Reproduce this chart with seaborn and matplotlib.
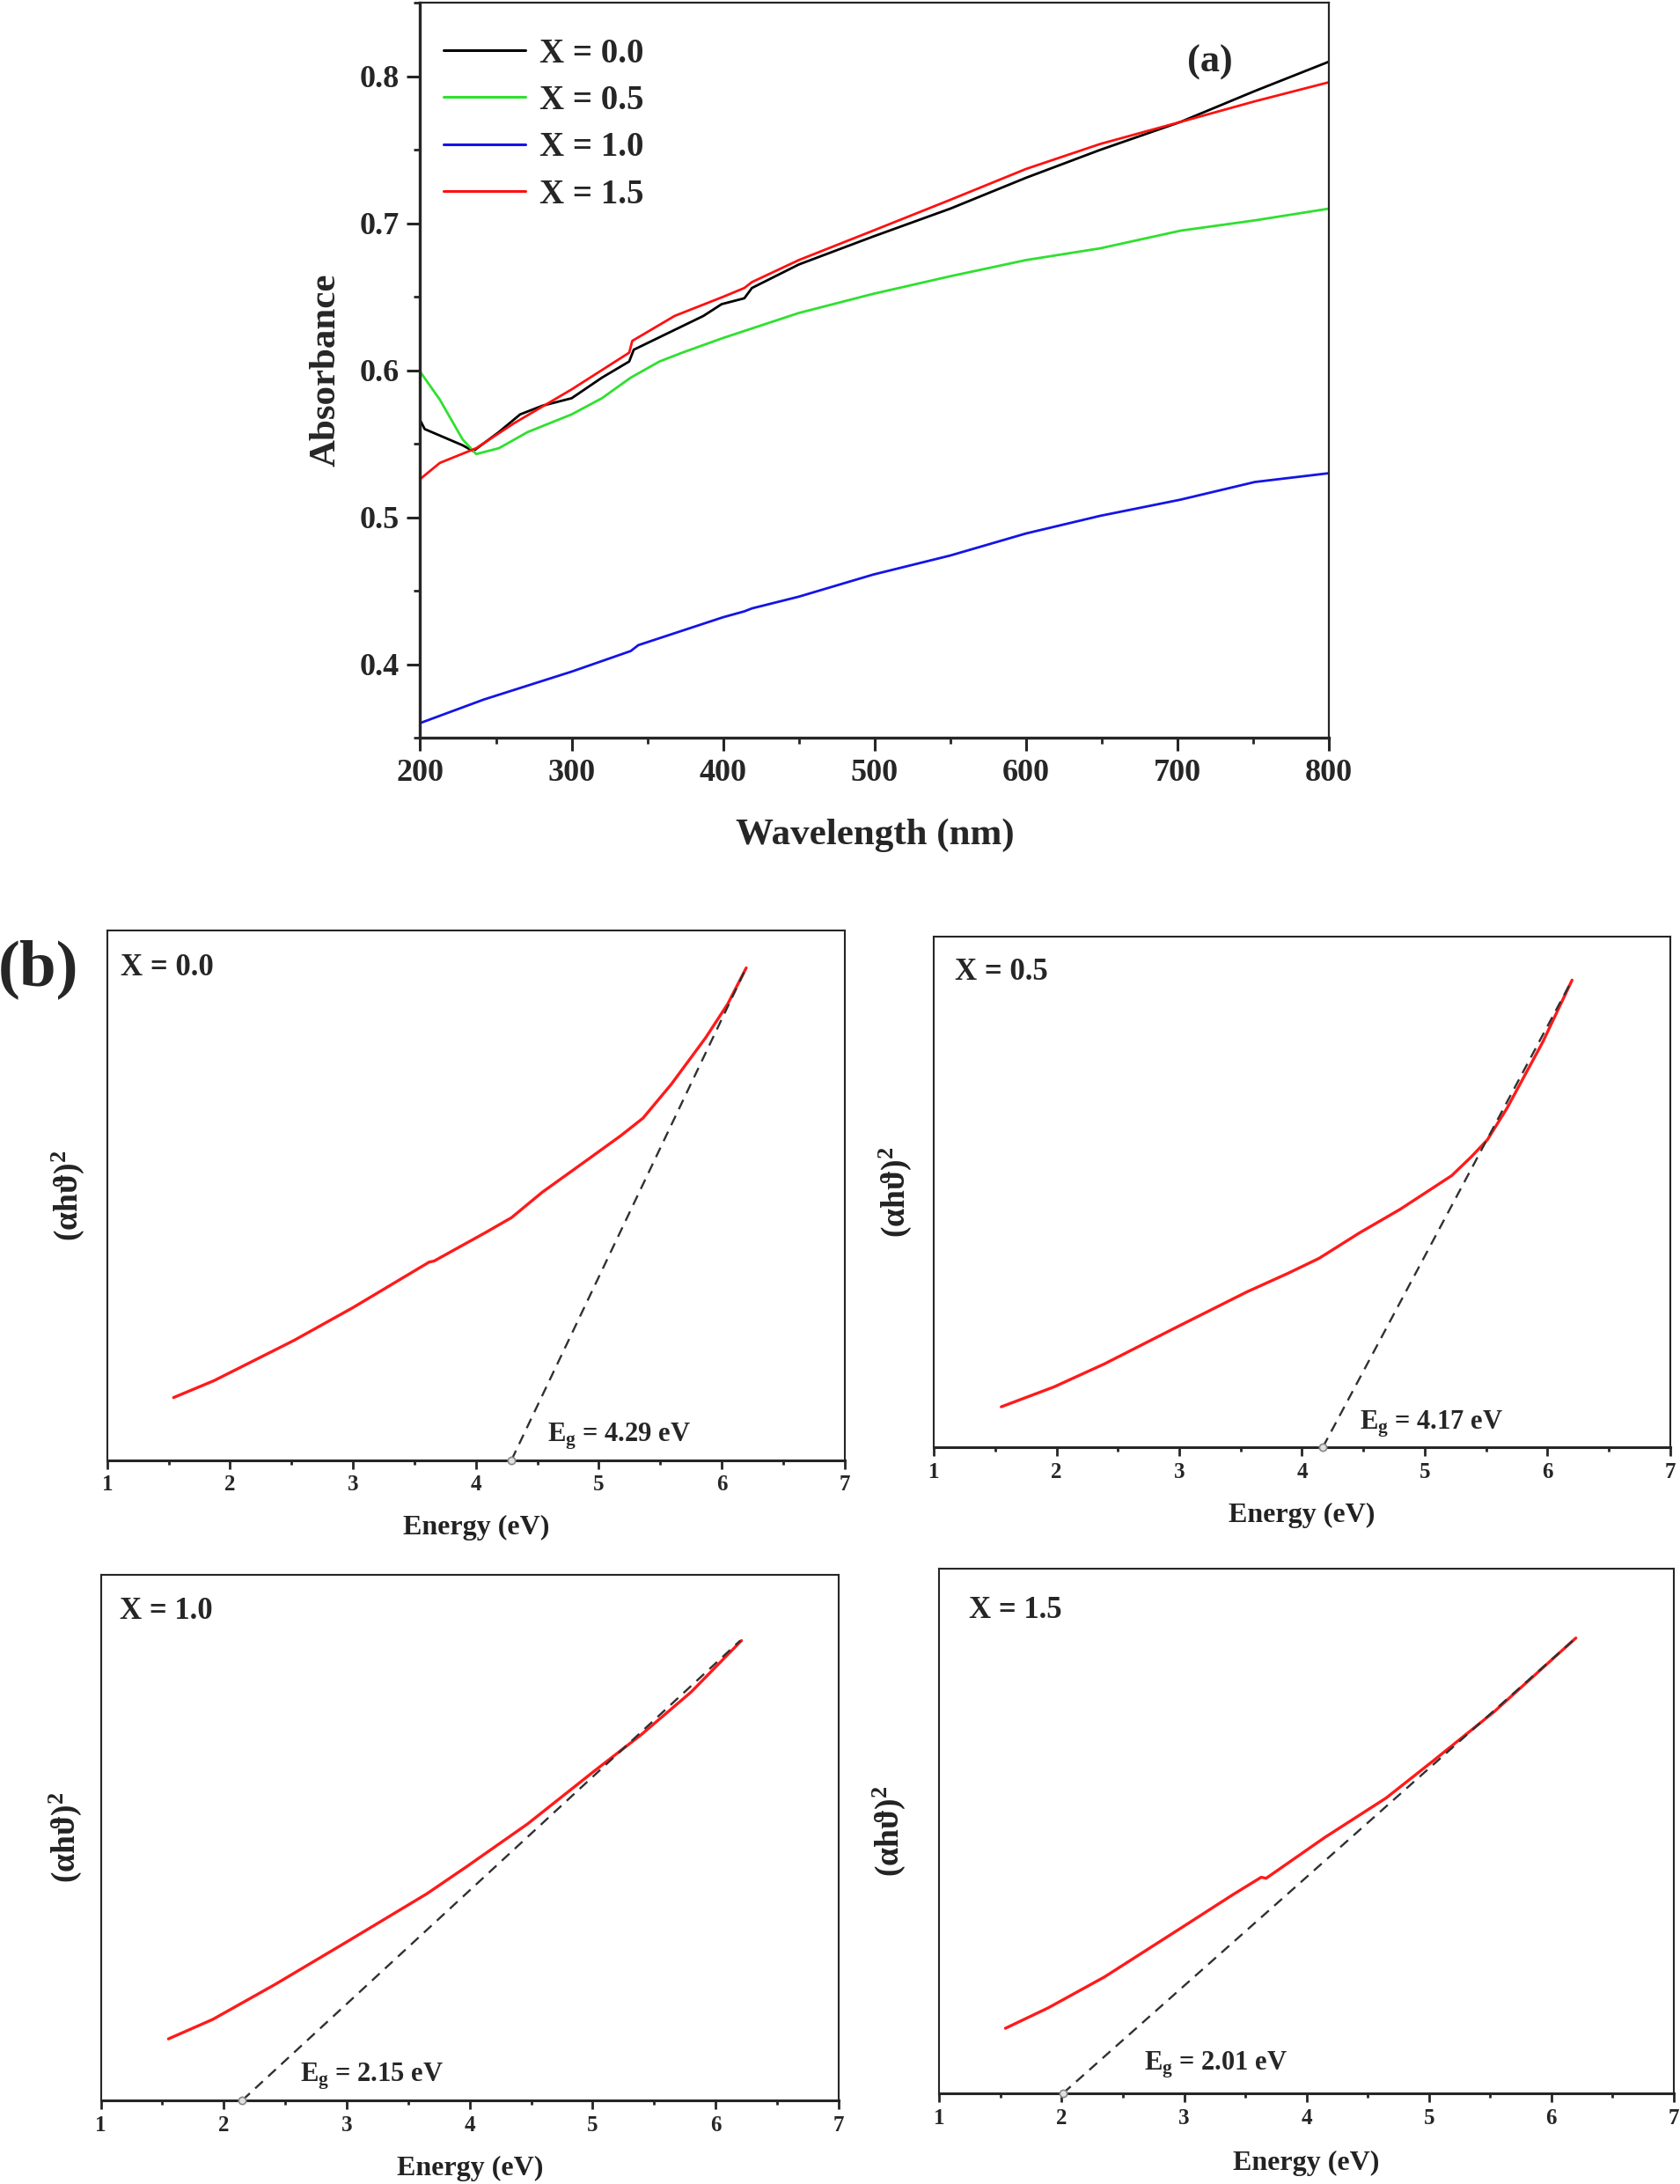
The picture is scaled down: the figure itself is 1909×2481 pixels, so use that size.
import numpy as np
import pandas as pd
import matplotlib
matplotlib.use("Agg")
import matplotlib.pyplot as plt
import seaborn as sns

# ---------------- Panel (a): absorbance spectra ----------------
wl_x00 = [200, 203, 228, 235, 252, 266, 281, 300, 320, 338, 341, 363, 387, 399, 414, 419, 450, 499, 550, 600, 649, 702, 751, 800]
ab_x00 = [0.566, 0.560, 0.549, 0.545, 0.558, 0.570, 0.576, 0.581, 0.595, 0.606, 0.614, 0.625, 0.637, 0.645, 0.649, 0.656, 0.672, 0.691, 0.710, 0.731, 0.750, 0.769, 0.790, 0.810]

wl_x05 = [200, 213, 228, 237, 252, 271, 300, 320, 339, 358, 373, 400, 450, 499, 550, 600, 649, 702, 751, 800]
ab_x05 = [0.599, 0.580, 0.553, 0.543, 0.547, 0.558, 0.570, 0.581, 0.595, 0.606, 0.612, 0.622, 0.639, 0.652, 0.664, 0.675, 0.683, 0.695, 0.702, 0.710]

wl_x10 = [200, 242, 300, 339, 344, 400, 414, 419, 450, 499, 550, 600, 649, 702, 751, 800]
ab_x10 = [0.360, 0.376, 0.395, 0.409, 0.413, 0.432, 0.436, 0.438, 0.446, 0.461, 0.474, 0.489, 0.501, 0.512, 0.524, 0.530]

wl_x15 = [200, 213, 237, 262, 300, 338, 340, 368, 400, 414, 419, 450, 499, 550, 600, 649, 702, 751, 800]
ab_x15 = [0.526, 0.537, 0.547, 0.564, 0.587, 0.612, 0.620, 0.637, 0.650, 0.656, 0.660, 0.675, 0.695, 0.716, 0.737, 0.754, 0.769, 0.783, 0.796]

series_labels = ["X = 0.0", "X = 0.5", "X = 1.0", "X = 1.5"]
series_colors = ["#000000", "#2fe02f", "#1414e6", "#ff1010"]

# ---------------- Panel (b): Tauc plots ----------------
tauc_titles = ["X = 0.0", "X = 0.5", "X = 1.0", "X = 1.5"]
eg_values = [4.29, 4.17, 2.15, 2.01]
eg_texts = ["E$_{\\mathrm{g}}$ = 4.29 eV", "E$_{\\mathrm{g}}$ = 4.17 eV",
            "E$_{\\mathrm{g}}$ = 2.15 eV", "E$_{\\mathrm{g}}$ = 2.01 eV"]

e_x00 = [1.54, 1.87, 2.52, 3.00, 3.62, 3.66, 4.08, 4.29, 4.54, 4.90, 5.18, 5.36, 5.59, 5.87, 6.05, 6.20]
y_x00 = [0.118, 0.150, 0.226, 0.288, 0.374, 0.376, 0.430, 0.458, 0.506, 0.566, 0.613, 0.646, 0.710, 0.798, 0.862, 0.930]

e_x05 = [1.55, 1.98, 2.39, 2.97, 3.55, 3.89, 4.14, 4.47, 4.80, 5.01, 5.22, 5.38, 5.51, 5.67, 5.96, 6.20]
y_x05 = [0.079, 0.118, 0.163, 0.234, 0.304, 0.341, 0.370, 0.420, 0.466, 0.499, 0.532, 0.569, 0.602, 0.664, 0.793, 0.915]

e_x10 = [1.55, 1.91, 2.42, 3.01, 3.65, 3.97, 4.47, 5.02, 5.39, 5.80, 6.21]
y_x10 = [0.117, 0.154, 0.221, 0.303, 0.393, 0.444, 0.526, 0.628, 0.695, 0.777, 0.875]

e_x15 = [1.54, 1.89, 2.35, 2.98, 3.40, 3.63, 3.67, 4.15, 4.65, 5.03, 5.53, 6.20]
y_x15 = [0.124, 0.163, 0.222, 0.316, 0.379, 0.412, 0.410, 0.488, 0.563, 0.633, 0.727, 0.868]

# tangent line end points
tan_e_end = [6.20, 6.20, 6.20, 6.20]
tan_y_end = [0.930, 0.915, 0.875, 0.868]

energy_ticks = [1, 2, 3, 4, 5, 6, 7]

# ---------------- styling ----------------
sns.set_theme(style="ticks")
plt.rcParams["font.family"] = ["Liberation Serif", "DejaVu Serif"]
plt.rcParams["font.weight"] = "bold"
plt.rcParams["axes.labelweight"] = "bold"
plt.rcParams["mathtext.fontset"] = "custom"
plt.rcParams["mathtext.rm"] = "Liberation Serif:bold"
plt.rcParams["mathtext.it"] = "Liberation Serif:italic:bold"
plt.rcParams["mathtext.bf"] = "Liberation Serif:bold"

fig = plt.figure(figsize=(19.09, 24.81), dpi=100)

# ---- panel (a)
axA = fig.add_axes([0.2501, 0.6622, 0.541, 0.3365])
all_wl = [wl_x00, wl_x05, wl_x10, wl_x15]
all_ab = [ab_x00, ab_x05, ab_x10, ab_x15]
for wl, ab, lab, col in zip(all_wl, all_ab, series_labels, series_colors):
    df = pd.DataFrame({"Wavelength": wl, "Absorbance": ab})
    sns.lineplot(data=df, x="Wavelength", y="Absorbance", color=col, lw=2.0,
                 label=lab, ax=axA, estimator=None, sort=True)
axA.set_xlim(200, 800)
axA.set_ylim(0.35, 0.85)
axA.set_xticks([200, 300, 400, 500, 600, 700, 800])
axA.set_xticks(np.arange(250, 800, 100), minor=True)
axA.set_yticks([0.4, 0.5, 0.6, 0.7, 0.8])
axA.set_yticks([0.35, 0.45, 0.55, 0.65, 0.75, 0.85], minor=True)
axA.set_yticklabels(["0.4", "0.5", "0.6", "0.7", "0.8"])
axA.tick_params(which="major", direction="out", length=11, width=2.2, labelsize=26, pad=6)
axA.tick_params(which="minor", direction="out", length=5, width=2.0)
for s in ["left", "bottom"]:
    axA.spines[s].set_linewidth(2.4)
for s in ["top", "right"]:
    axA.spines[s].set_linewidth(1.6)
axA.set_xlabel("Wavelength (nm)", fontsize=31, fontweight="bold")
axA.set_ylabel("Absorbance", fontsize=31, fontweight="bold")
axA.xaxis.set_label_coords(0.5, -0.109)
axA.yaxis.set_label_coords(-0.085, 0.5)
leg = axA.legend(loc="upper left", bbox_to_anchor=(0.018, 0.962), frameon=False,
                 fontsize=28, handlelength=2.4, handletextpad=0.4, labelspacing=0.42,
                 borderaxespad=0.0, borderpad=0.2)
for line in leg.get_lines():
    line.set_linewidth(2.2)
axA.text(0.869, 0.919, "(a)", transform=axA.transAxes, fontsize=32,
         fontweight="bold", ha="center", va="center")

# ---- panel (b)
rects = [[0.0638, 0.3315, 0.4389, 0.2423],
         [0.5558, 0.3374, 0.4384, 0.2337],
         [0.0600, 0.0383, 0.4392, 0.2406],
         [0.5591, 0.0415, 0.4372, 0.2402]]
all_e = [e_x00, e_x05, e_x10, e_x15]
all_y = [y_x00, y_x05, y_x10, y_x15]
ylab_x = [-0.028, -0.027, -0.023, -0.044]
xlab_y = [-0.104, -0.108, -0.106, -0.109]
title_pos = [(1.11, 0.93), (1.17, 0.93), (1.15, 0.93), (1.24, 0.92)]
eg_pos = [(4.58, 0.045), (4.47, 0.045), (2.62, 0.045), (2.67, 0.055)]

for i in range(4):
    ax = fig.add_axes(rects[i])
    sns.lineplot(x=all_e[i], y=all_y[i], color="#ff1a1a", lw=2.4, ax=ax,
                 estimator=None, sort=True)
    sns.lineplot(x=[eg_values[i], tan_e_end[i]], y=[0.0, tan_y_end[i]],
                 color="#303030", lw=1.7, ax=ax, estimator=None, dashes=False)
    ax.lines[-1].set_linestyle((0, (5, 3.5)))
    ax.plot([eg_values[i]], [0.0], "o", ms=6, mfc="#e0e0e0", mec="#888888",
            mew=1.2, clip_on=False, zorder=5)
    ax.set_xlim(1, 7)
    ax.set_ylim(0, 1)
    ax.set_xticks(energy_ticks)
    ax.set_xticks(np.arange(1.5, 7, 1.0), minor=True)
    ax.set_yticks([])
    ax.tick_params(axis="x", which="major", direction="out", length=7, width=2.0,
                   labelsize=18, pad=5)
    ax.tick_params(axis="x", which="minor", direction="out", length=3.5, width=2.0)
    for lbl in ax.get_xticklabels():
        lbl.set_fontweight("bold")
    ax.spines["bottom"].set_linewidth(2.2)
    for s in ["top", "right", "left"]:
        ax.spines[s].set_linewidth(1.5)
    ax.set_xlabel("Energy (eV)", fontsize=23, fontweight="bold", color="#222222")
    ax.set_ylabel("(αhϑ)$^{2}$", fontsize=27, fontweight="bold", color="#222222")
    ax.xaxis.set_label_coords(0.5, xlab_y[i])
    ax.yaxis.set_label_coords(ylab_x[i], 0.5)
    ax.text(title_pos[i][0], title_pos[i][1], tauc_titles[i], fontsize=25,
            fontweight="bold", ha="left", va="center")
    ax.text(eg_pos[i][0], eg_pos[i][1], eg_texts[i], fontsize=22,
            fontweight="bold", ha="left", va="center")

fig.text(0.023, 0.556, "(b)", fontsize=54, fontweight="bold", ha="center", va="center")

fig.savefig("out.png", dpi=100)
